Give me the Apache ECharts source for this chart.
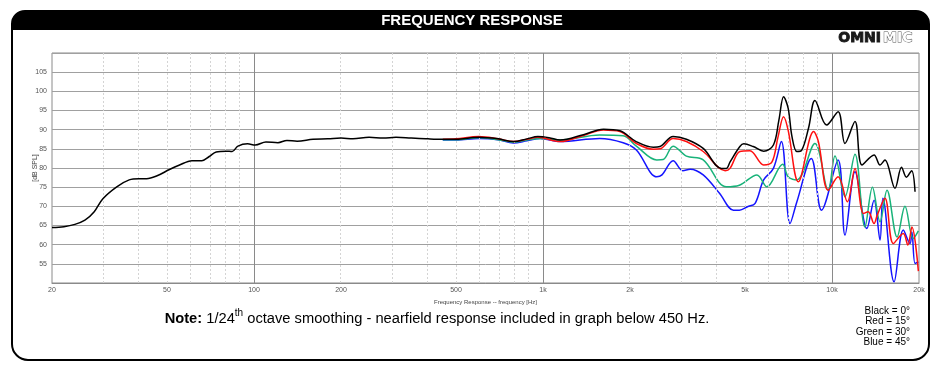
<!DOCTYPE html>
<html><head><meta charset="utf-8">
<script src="https://cdn.jsdelivr.net/npm/echarts@6/dist/echarts.min.js"></script>
<style>html,body{margin:0;padding:0;background:#fff}#c{width:944px;height:378px}</style>
</head><body><div id="c"></div>
<script>
// ---- data ----
const xTickLabels = [20, 50, 100, 200, 500, 1000, 2000, 5000, 10000, 20000];
const majorGridHz = [100, 1000, 10000];
const minorGridHz = [30, 40, 50, 60, 70, 80, 90, 200, 300, 400, 500, 600, 700, 800, 900,
  2000, 3000, 4000, 5000, 6000, 7000, 8000, 9000];

const blackHz = [20, 22, 24, 26, 28, 30, 33.5, 37, 40, 42.5, 46, 51, 55, 61, 66, 70, 74, 80, 84, 88, 95, 101, 110, 121, 130, 141, 160, 180, 200, 220, 250, 280, 310, 350, 400, 450, 500, 600, 700, 790, 880, 960, 1050, 1146, 1380, 1620, 1845, 2100, 2410, 2540, 2820, 3134, 3584, 4140, 4310, 4440, 4800, 4950, 5340, 5800, 6270, 6550, 6800, 7050, 7270, 7560, 7850, 8300, 8730, 9580, 10500, 11090, 12010, 12700, 13980, 14660, 15250, 16520, 17400, 18100, 18850, 19380];
const blackDb = [64.5, 64.7, 65.3, 66.4, 68.6, 72.0, 75.1, 76.9, 77.2, 77.2, 77.9, 79.6, 80.7, 81.9, 81.9, 83.0, 84.2, 84.4, 84.3, 85.7, 86.3, 86.0, 86.8, 86.6, 87.2, 87.0, 87.5, 87.6, 87.8, 87.6, 88.0, 87.8, 88.0, 87.8, 87.6, 87.5, 87.5, 88.0, 87.6, 86.9, 87.6, 88.2, 87.9, 87.3, 88.7, 90.1, 89.7, 86.9, 85.4, 85.6, 88.2, 87.5, 85.1, 79.9, 79.9, 81.6, 85.6, 86.3, 85.6, 84.4, 86.0, 92.5, 98.6, 95.6, 88.2, 84.3, 84.6, 90.5, 97.6, 91.2, 94.7, 86.4, 92.1, 80.8, 83.4, 80.8, 82.1, 74.7, 80.2, 77.6, 79.3, 73.8];

const redHz = [450, 500, 600, 700, 790, 880, 960, 1146, 1380, 1616, 1845, 2104, 2410, 2540, 2820, 3134, 3584, 4270, 4436, 4800, 5200, 5800, 6200, 6500, 6800, 7050, 7650, 8640, 8970, 9700, 10500, 11300, 12010, 12850, 13350, 13980, 14340, 15250, 16300, 17650, 18300, 18900, 19900];
const redDb = [87.5, 87.6, 88.2, 87.6, 86.9, 87.5, 88.0, 86.9, 88.5, 89.9, 89.5, 86.4, 84.9, 85.0, 87.7, 86.9, 84.3, 79.3, 79.9, 84.3, 84.5, 80.8, 81.6, 88.0, 93.4, 89.9, 76.4, 89.5, 86.9, 74.2, 77.7, 71.2, 79.9, 68.1, 68.6, 65.5, 67.7, 72.1, 60.3, 62.9, 59.9, 64.6, 53.1];

const greenHz = [450, 500, 600, 700, 790, 880, 978, 1146, 1570, 1893, 2104, 2475, 2605, 2820, 3134, 3584, 4310, 4780, 5500, 5950, 6750, 7050, 7560, 8730, 9700, 10240, 11090, 12010, 13000, 13800, 14660, 15500, 16800, 17890, 19100, 19900];
const greenDb = [87.4, 87.4, 87.9, 87.4, 86.7, 87.3, 87.7, 87.3, 88.6, 88.4, 85.7, 82.1, 82.2, 85.7, 83.1, 82.1, 75.1, 75.5, 78.2, 75.1, 81.0, 77.7, 76.9, 86.4, 74.2, 83.1, 72.5, 83.6, 64.6, 75.0, 66.0, 74.2, 62.0, 70.0, 61.6, 63.6];

const blueHz = [450, 500, 600, 700, 790, 880, 978, 1146, 1570, 1893, 2104, 2475, 2580, 2820, 3046, 3230, 3584, 4080, 4560, 4780, 5100, 5420, 5800, 6270, 6680, 7160, 7560, 8480, 9200, 10500, 11090, 12010, 13200, 13980, 14660, 15000, 16400, 17650, 18620, 18900, 19380, 19900];
const blueDb = [87.3, 87.3, 87.7, 87.4, 86.5, 87.1, 87.7, 86.9, 87.7, 86.6, 84.7, 77.7, 78.2, 81.9, 79.3, 79.7, 78.2, 73.4, 69.0, 69.0, 69.9, 70.8, 76.9, 79.9, 86.9, 65.5, 71.2, 82.5, 69.0, 82.1, 62.5, 79.0, 64.2, 71.6, 61.2, 72.1, 50.3, 63.8, 60.3, 63.3, 55.1, 55.5];

const legendLines = ['Black = 0°', 'Red = 15°', 'Green = 30°', 'Blue = 45°'];

// ---- build ----
const L = Math.log10;
function pts(hz, db) { return hz.map((f, i) => [L(f), db[i]]); }
function fmtHz(v) {
  const f = Math.round(Math.pow(10, v));
  return f >= 1000 ? (f / 1000) + 'k' : String(f);
}
const chart = echarts.init(document.getElementById('c'), null, { renderer: 'canvas' });
const lineW = 1.5;
function curve(name, hz, db, color, z) {
  return { name, type: 'line', data: pts(hz, db), showSymbol: false, smooth: 0.35,
    lineStyle: { color, width: lineW }, itemStyle: { color }, z, silent: true, animation: false };
}
const gridLines = minorGridHz.map(f => ({ xAxis: L(f), lineStyle: { color: '#d4d4d4', width: 1, type: [2, 2] } }))
  .concat(majorGridHz.map(f => ({ xAxis: L(f), lineStyle: { color: '#8a8a8a', width: 1, type: 'solid' } })));

chart.setOption({
  animation: false,
  backgroundColor: '#fff',
  grid: { left: 52, right: 25, top: 53, bottom: 95, show: true, borderColor: '#8a8a8a', borderWidth: 1, containLabel: false },
  xAxis: {
    type: 'value', min: L(20), max: L(20000),
    name: 'Frequency Response -- frequency [Hz]', nameLocation: 'middle', nameGap: 12,
    nameTextStyle: { fontSize: 6, color: '#444', fontFamily: 'Liberation Sans' },
    axisLine: { show: true, lineStyle: { color: '#8a8a8a' } },
    axisTick: { show: false },
    splitLine: { show: false },
    axisLabel: { customValues: xTickLabels.map(L), formatter: fmtHz, fontSize: 7, color: '#555', margin: 4, fontFamily: 'Liberation Sans' }
  },
  yAxis: {
    type: 'value', min: 50, max: 110, interval: 5,
    name: '[dB SPL]', nameLocation: 'middle', nameGap: 13, nameRotate: 90, nameMoveOverlap: false,
    nameTextStyle: { fontSize: 7, color: '#444', fontFamily: 'Liberation Sans' },
    axisLine: { show: false }, axisTick: { show: false },
    splitLine: { show: true, lineStyle: { color: '#a0a0a0', width: 1 } },
    axisLabel: { formatter: v => (v === 50 || v === 110) ? '' : String(v), fontSize: 7, color: '#555', margin: 5, fontFamily: 'Liberation Sans' }
  },
  series: [
    { name: 'grid', type: 'line', data: [], z: 1, silent: true,
      markLine: { silent: true, symbol: 'none', label: { show: false }, animation: false, data: gridLines } },
    curve('Blue', blueHz, blueDb, '#1414ff', 3),
    curve('Green', greenHz, greenDb, '#19b37a', 4),
    curve('Red', redHz, redDb, '#ff1010', 5),
    curve('Black', blackHz, blackDb, '#000000', 6)
  ],
  graphic: [
    { type: 'rect', z: 10, shape: { x: 12, y: 11, width: 917, height: 19, r: [13, 13, 0, 0] }, style: { fill: '#000' } },
    { type: 'rect', z: 10, shape: { x: 12, y: 11, width: 917, height: 349, r: [13, 13, 16, 16] }, style: { fill: 'none', stroke: '#000', lineWidth: 2 } },
    { type: 'text', z: 11, x: 472, y: 21, style: { text: 'FREQUENCY RESPONSE', fill: '#fff', font: 'bold 15px "Liberation Sans Narrow", "Liberation Sans", Arial', align: 'center', verticalAlign: 'middle' } },
    { type: 'text', z: 11, x: 881, y: 38, style: { text: 'OMNI', fill: '#1a1a1a', stroke: '#1a1a1a', lineWidth: 0.9, font: 'bold 14px "DejaVu Sans", Arial', align: 'right', verticalAlign: 'middle' } },
    { type: 'text', z: 11, x: 883, y: 38, style: { text: 'MIC', fill: '#fff', stroke: '#555', lineWidth: 1, font: 'bold 14px "DejaVu Sans", Arial', align: 'left', verticalAlign: 'middle' } },
    { type: 'text', z: 11, x: 437, y: 317, style: {
        text: '{b|Note:}{n| 1/24}{s|th}{n| octave smoothing - nearfield response included in graph below 450 Hz.}',
        align: 'center', verticalAlign: 'middle',
        rich: {
          b: { font: 'bold 14.7px "Liberation Sans", Arial', fill: '#000', lineHeight: 18, verticalAlign: 'bottom' },
          n: { font: '14.7px "Liberation Sans", Arial', fill: '#000', lineHeight: 18, verticalAlign: 'bottom' },
          s: { font: '10px "Liberation Sans", Arial', fill: '#000', lineHeight: 18, verticalAlign: 'top' }
        } } },
    { type: 'text', z: 11, x: 910, y: 306, style: {
        text: legendLines.join('\n'), align: 'right', verticalAlign: 'top',
        font: '10px "Liberation Sans", Arial', fill: '#000', lineHeight: 10.3 } }
  ]
});
</script></body></html>
